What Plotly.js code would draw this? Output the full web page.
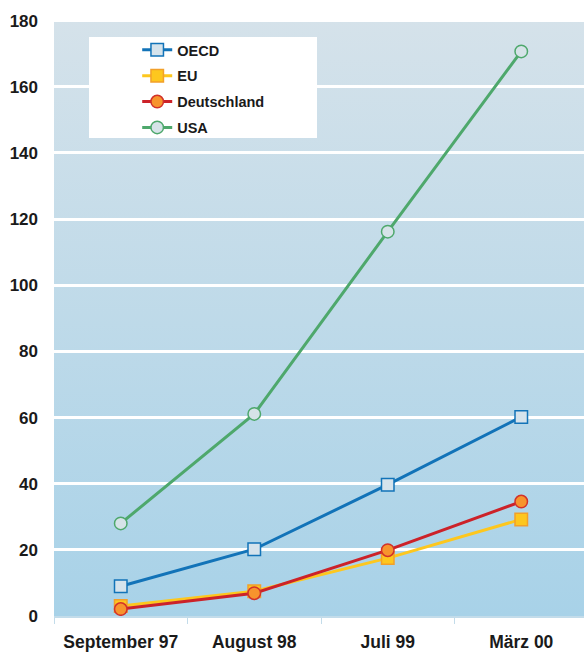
<!DOCTYPE html>
<html>
<head>
<meta charset="utf-8">
<script src="https://cdn.plot.ly/plotly-3.0.1.min.js"></script>
<style>html,body{margin:0;padding:0;background:#fff}#chart{width:584px;height:652px}</style>
</head>
<body>
<div id="chart"></div>
<script>
const categories = ["September 97", "August 98", "Juli 99", "März 00"];
const oecd = [9.0, 20.2, 39.7, 60.2];
const eu = [3.0, 7.5, 17.5, 29.2];
const deutschland = [2.1, 6.9, 19.9, 34.6];
const usa = [28.0, 61.1, 116.2, 170.7];
const yTicks = [0, 20, 40, 60, 80, 100, 120, 140, 160, 180];

const gradSvg = '<svg xmlns="http://www.w3.org/2000/svg" width="10" height="100" preserveAspectRatio="none">' +
  '<defs><linearGradient id="g" x1="0" y1="0" x2="0" y2="1">' +
  '<stop offset="0" stop-color="#d5e2ea"/><stop offset="1" stop-color="#a8d2e8"/>' +
  '</linearGradient></defs><rect width="10" height="100" fill="url(#g)"/></svg>';
const gradUri = 'data:image/svg+xml;base64,' + btoa(gradSvg);

function tr(name, y, lineColor, symbol, fill, border, group) {
  return {
    type: 'scatter', mode: 'lines+markers', name: name,
    x: categories, y: y, legendgroup: group,
    line: {color: lineColor, width: 3},
    marker: {symbol: symbol, size: 12.5, color: fill, line: {color: border, width: 1.5}}
  };
}

const data = [
  tr('OECD', oecd, '#1273b8', 'square', '#d5e3ec', '#1273b8', 'a'),
  tr('EU', eu, '#fdc71e', 'square', '#fdc71e', '#f2a02a', 'b'),
  tr('Deutschland', deutschland, '#cc2229', 'circle', '#f7942d', '#d2322a', 'c'),
  tr('USA', usa, '#4ea86c', 'circle', '#d6e3e8', '#4ea86c', 'd')
];

const layout = {
  width: 584, height: 652,
  margin: {l: 54, r: 0, t: 19, b: 36},
  paper_bgcolor: '#ffffff',
  plot_bgcolor: 'rgba(0,0,0,0)',
  font: {family: 'Liberation Sans, Arial, sans-serif', color: '#1a1a1a'},
  showlegend: true,
  legend: {
    x: 0.157, y: 0.975, xanchor: 'left', yanchor: 'top',
    bgcolor: 'rgba(0,0,0,0)', borderwidth: 0,
    tracegroupgap: 4,
    font: {size: 14.5, family: 'Liberation Sans, Arial, sans-serif', color: '#1a1a1a', weight: 'bold'}
  },
  xaxis: {
    type: 'category', range: [-0.5, 3.47],
    showgrid: false, zeroline: false,
    showline: true, linecolor: '#c3dcea', linewidth: 1.5,
    ticks: 'outside', tickson: 'boundaries', ticklen: 6, tickcolor: '#c3dcea', tickwidth: 1,
    ticklabelstandoff: 9,
    tickfont: {size: 17.5, weight: 'bold', color: '#1a1a1a'},
    fixedrange: true
  },
  yaxis: {
    range: [0, 180.5], tickvals: yTicks, ticktext: yTicks.map(String),
    showgrid: true, gridcolor: '#ffffff', gridwidth: 3,
    zeroline: false, showline: false, ticks: '',
    ticklabelstandoff: 15,
    tickfont: {size: 17, weight: 'bold', color: '#1a1a1a'},
    fixedrange: true
  },
  images: [{
    source: gradUri, xref: 'paper', yref: 'paper', x: 0, y: 1, sizex: 1, sizey: 1,
    xanchor: 'left', yanchor: 'top', sizing: 'stretch', layer: 'below'
  }],
  shapes: [{
    type: 'rect', xref: 'paper', yref: 'paper', layer: 'between',
    x0: (89 - 54) / 530, x1: (317 - 54) / 530,
    y0: (616 - 138) / 597, y1: (616 - 37) / 597,
    fillcolor: '#ffffff', line: {width: 0}
  }]
};

Plotly.newPlot('chart', data, layout, {displayModeBar: false, staticPlot: true});
</script>
</body>
</html>
